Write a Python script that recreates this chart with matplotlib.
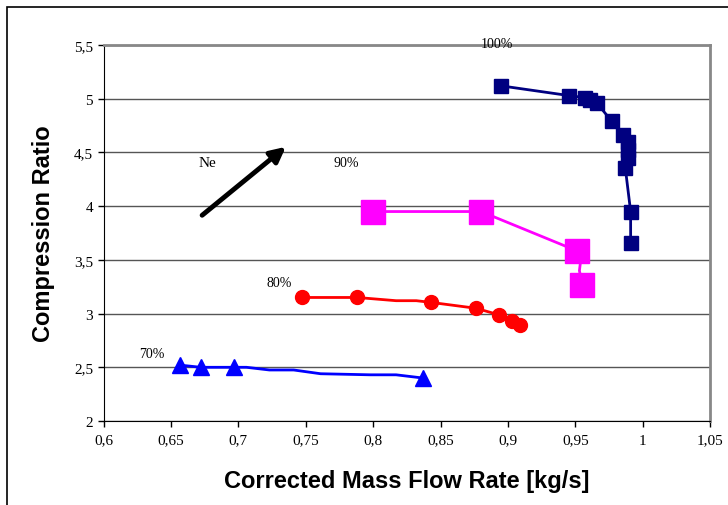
import matplotlib
matplotlib.use("Agg")
import matplotlib.pyplot as plt
from matplotlib.patches import Rectangle

# speed line 100% (navy squares)
x100 = [0.895, 0.945, 0.957, 0.961, 0.966, 0.977, 0.985, 0.989, 0.989, 0.989, 0.987, 0.991, 0.991]
y100 = [5.12, 5.03, 5.01, 4.99, 4.96, 4.79, 4.66, 4.60, 4.52, 4.45, 4.36, 3.95, 3.66]

# speed line 90% (magenta squares)
x90 = [0.800, 0.880, 0.951, 0.955]
y90 = [3.95, 3.95, 3.585, 3.27]
x90_line = [0.800, 0.880, 0.951, 0.954, 0.953, 0.955]
y90_line = [3.95, 3.95, 3.585, 3.50, 3.40, 3.27]

# speed line 80% (red circles)
x80 = [0.747, 0.788, 0.843, 0.876, 0.893, 0.903, 0.909]
y80 = [3.15, 3.15, 3.104, 3.05, 2.99, 2.935, 2.89]
x80_line = [0.747, 0.788, 0.817, 0.832, 0.843, 0.876, 0.893, 0.903, 0.909]
y80_line = [3.15, 3.15, 3.12, 3.12, 3.104, 3.05, 2.99, 2.935, 2.89]

# speed line 70% (blue triangles)
x70 = [0.657, 0.672, 0.697, 0.837]
y70 = [2.52, 2.50, 2.50, 2.40]
x70_line = [0.657, 0.672, 0.697, 0.706, 0.723, 0.741, 0.761, 0.798, 0.817, 0.837]
y70_line = [2.52, 2.50, 2.50, 2.50, 2.475, 2.475, 2.44, 2.43, 2.43, 2.40]

xticks = [0.6, 0.65, 0.7, 0.75, 0.8, 0.85, 0.9, 0.95, 1.0, 1.05]
xlabels = ["0,6", "0,65", "0,7", "0,75", "0,8", "0,85", "0,9", "0,95", "1", "1,05"]
yticks = [2, 2.5, 3, 3.5, 4, 4.5, 5, 5.5]
ylabels = ["2", "2,5", "3", "3,5", "4", "4,5", "5", "5,5"]

fig = plt.figure(figsize=(7.28, 5.06), dpi=100)
ax = fig.add_axes([0.1423, 0.166, 0.8332, 0.743])

ax.plot(x100, y100, color="#000080", lw=2, marker="s", ms=10, zorder=3)
ax.plot(x90_line, y90_line, color="#FF00FF", lw=2, zorder=3)
ax.plot(x90, y90, ls="none", color="#FF00FF", marker="s", ms=17, zorder=4)
ax.plot(x80_line, y80_line, color="#FF0000", lw=2, zorder=3)
ax.plot(x80, y80, ls="none", color="#FF0000", marker="o", ms=10, zorder=4)
ax.plot(x70_line, y70_line, color="#0000FF", lw=2, zorder=3)
ax.plot(x70, y70, ls="none", color="#0000FF", marker="^", ms=11, zorder=4)

ax.annotate("", xy=(0.7368, 4.569), xytext=(0.6715, 3.899),
            arrowprops=dict(arrowstyle="-|>,head_length=0.9,head_width=0.45", color="black", lw=3.5))

serif = "Liberation Serif"
ax.text(0.892, 5.51, "100%", fontsize=10, family=serif, ha="center", va="center")
ax.text(0.780, 4.41, "90%", fontsize=10, family=serif, ha="center", va="center")
ax.text(0.730, 3.29, "80%", fontsize=10, family=serif, ha="center", va="center")
ax.text(0.636, 2.63, "70%", fontsize=10, family=serif, ha="center", va="center")
ax.text(0.677, 4.41, "Ne", fontsize=11, family=serif, ha="center", va="center")

ax.set_xlim(0.6, 1.05)
ax.set_ylim(2, 5.5)
ax.set_xticks(xticks)
ax.set_xticklabels(xlabels, family=serif, fontsize=11)
ax.set_yticks(yticks)
ax.set_yticklabels(ylabels, family=serif, fontsize=11)
ax.tick_params(direction="out", length=4, width=1)
ax.tick_params(axis="x", pad=5)
ax.yaxis.grid(True, color="#555555", lw=1)
ax.set_axisbelow(True)
ax.spines["top"].set_color("#888888")
ax.spines["right"].set_color("#888888")
ax.spines["top"].set_linewidth(2)
ax.spines["right"].set_linewidth(2)

ax.set_xlabel("Corrected Mass Flow Rate [kg/s]", family="Liberation Sans", fontweight="bold",
              fontsize=17, labelpad=16)
ax.set_ylabel("Compression Ratio", family="Liberation Sans", fontweight="bold",
              fontsize=17, labelpad=14)

# outer frame of the chart
fig.patches.append(Rectangle((7 / 728, -0.1), 1.2, 1.1 - 8 / 506, transform=fig.transFigure,
                             fill=False, edgecolor="black", lw=1.2))

fig.savefig("out.png", dpi=100)
